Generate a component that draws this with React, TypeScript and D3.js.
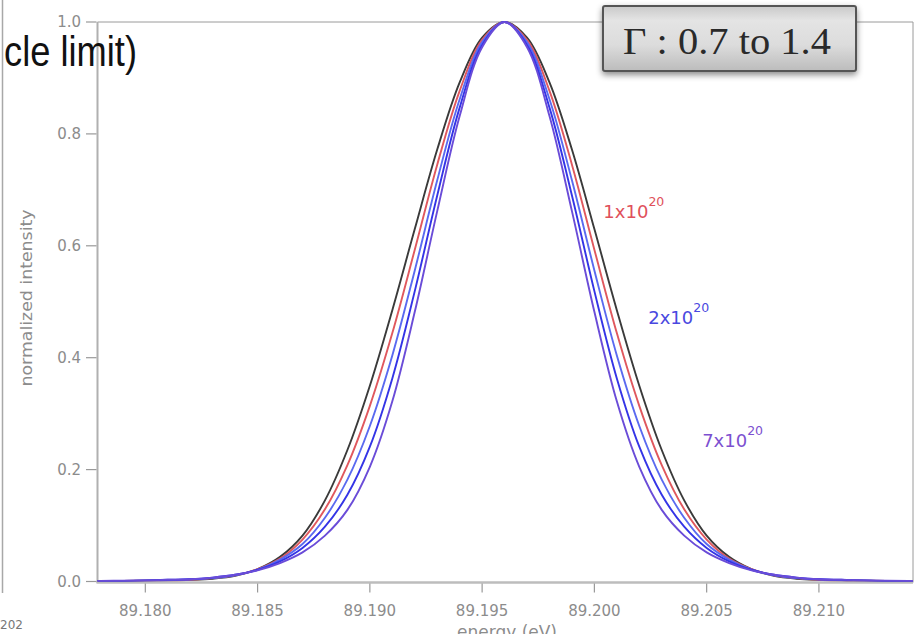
import React from "react";
import * as d3 from "d3";

const energies = [
  89.177, 89.178, 89.179, 89.18, 89.181, 89.182, 89.183, 89.184, 89.185, 89.186,
  89.187, 89.188, 89.189, 89.19, 89.191, 89.192, 89.193, 89.194, 89.195, 89.196,
  89.197, 89.198, 89.199, 89.2, 89.201, 89.202, 89.203, 89.204, 89.205, 89.206,
  89.207, 89.208, 89.209, 89.21, 89.211, 89.212, 89.213, 89.214, 89.215,
];

const blackSeries = [.001,.001,.001,.0015,.002,.003,.005,.010,.022,.044,.082,.145,.235,.350,.485,.630,.772,.892,.972,1,.972,.892,.772,.630,.485,.350,.235,.145,.082,.044,.022,.010,.005,.003,.002,.0015,.001,.001,.001];
const redSeries = [.001,.001,.001,.0015,.002,.003,.006,.011,.022,.041,.075,.129,.208,.314,.444,.593,.745,.877,.968,1,.968,.877,.745,.593,.444,.314,.208,.129,.075,.041,.022,.011,.006,.003,.002,.0015,.001,.001,.001];
const blueSeries = [.001,.001,.001,.0015,.002,.004,.006,.011,.021,.039,.067,.114,.182,.278,.404,.556,.717,.862,.964,1,.964,.862,.717,.556,.404,.278,.182,.114,.067,.039,.021,.011,.006,.004,.002,.0015,.001,.001,.001];
const darkBlueSeries = [.001,.001,.001,.002,.003,.004,.007,.012,.021,.036,.060,.098,.155,.241,.363,.519,.690,.847,.959,1,.959,.847,.690,.519,.363,.241,.155,.098,.060,.036,.021,.012,.007,.004,.003,.002,.001,.001,.001];
const purpleSeries = [.001,.001,.0015,.002,.003,.004,.007,.012,.020,.033,.052,.082,.128,.205,.322,.482,.662,.832,.955,1,.955,.832,.662,.482,.322,.205,.128,.082,.052,.033,.020,.012,.007,.004,.003,.002,.0015,.001,.001];

const seriesList = [
  { name: "black", values: blackSeries, color: "#3a3a3a" },
  { name: "red", values: redSeries, color: "#e0585e" },
  { name: "blue", values: blueSeries, color: "#5a6af0" },
  { name: "darkblue", values: darkBlueSeries, color: "#3434e6" },
  { name: "purple", values: purpleSeries, color: "#6a4cd8" },
];

const xTicks = [89.18, 89.185, 89.19, 89.195, 89.2, 89.205, 89.21];
const yTicks = [0, 0.2, 0.4, 0.6, 0.8, 1.0];

const densityLabels = [
  { base: "1x10", exp: "20", e: 89.2004, v: 0.65, color: "#e0505a" },
  { base: "2x10", exp: "20", e: 89.2024, v: 0.46, color: "#4a48e0" },
  { base: "7x10", exp: "20", e: 89.2048, v: 0.24, color: "#7c50d0" },
];

const titleText = "cle limit)";
const gammaText = "Γ : 0.7 to 1.4";

export default function App() {
  const left = 97.5, right = 913, top = 22, bottom = 581.5;
  const x = d3.scaleLinear().domain([89.17787, 89.21419]).range([left, right]);
  const y = d3.scaleLinear().domain([0, 1]).range([bottom, top]);
  const line = d3
    .line<number>()
    .x((_, i) => x(energies[i]))
    .y((v) => y(v))
    .curve(d3.curveCatmullRom.alpha(0.5));

  return (
    <svg
      width={915}
      height={634}
      style={{ position: "absolute", left: 0, top: 0, background: "#fff" }}
      fontFamily="DejaVu Sans, Verdana, sans-serif"
    >
      <defs>
        <clipPath id="plotClip">
          <rect x={left} y={top - 4} width={right - left} height={bottom - top + 4} />
        </clipPath>
        <linearGradient id="boxGrad" x1="0" y1="0" x2="0" y2="1">
          <stop offset="0%" stopColor="#c9c9c9" />
          <stop offset="22%" stopColor="#e4e4e4" />
          <stop offset="60%" stopColor="#dcdcdc" />
          <stop offset="100%" stopColor="#bcbcbc" />
        </linearGradient>
        <filter id="shadow" x="-10%" y="-20%" width="120%" height="160%">
          <feDropShadow dx="0" dy="3" stdDeviation="3" floodColor="#000" floodOpacity="0.45" />
        </filter>
      </defs>

      {/* slide edge */}
      <line x1={2.5} x2={2.5} y1={0} y2={593} stroke="#a8a8a8" strokeWidth={1.5} />
      <text x={0} y={629} fontSize={12} fill="#777">202</text>

      {/* frame */}
      <line x1={left} x2={right} y1={top} y2={top} stroke="#9a9a9a" strokeWidth={1} />
      <line x1={right} x2={right} y1={top} y2={bottom + 1} stroke="#9a9a9a" strokeWidth={1} />
      <line x1={left} x2={left} y1={top} y2={bottom + 1.5} stroke="#b0b0b0" strokeWidth={2} />
      <line x1={left - 1} x2={right} y1={bottom + 1} y2={bottom + 1} stroke="#bdbdbd" strokeWidth={2.5} />

      {/* y ticks */}
      {yTicks.map((t) => (
        <g key={"y" + t}>
          <line x1={86} x2={left - 1} y1={y(t)} y2={y(t)} stroke="#999" strokeWidth={1.2} />
          <text x={81} y={y(t) + 5} fontSize={15} fill="#8c8c8c" textAnchor="end">
            {t.toFixed(1)}
          </text>
        </g>
      ))}

      {/* x ticks */}
      {xTicks.map((t) => (
        <g key={"x" + t}>
          <line x1={x(t)} x2={x(t)} y1={bottom + 2} y2={bottom + 11} stroke="#999" strokeWidth={1.2} />
          <text x={x(t)} y={616} fontSize={15} fill="#8c8c8c" textAnchor="middle">
            {t.toFixed(3)}
          </text>
        </g>
      ))}

      <text
        transform="translate(32,298) rotate(-90)"
        fontSize={16}
        fill="#8c8c8c"
        textAnchor="middle"
        textLength={177}
        lengthAdjust="spacingAndGlyphs"
      >
        normalized intensity
      </text>
      <text x={507} y={638} fontSize={17} fill="#8c8c8c" textAnchor="middle">
        energy (eV)
      </text>

      {/* curves */}
      <g clipPath="url(#plotClip)">
        {seriesList.map((s) => (
          <path key={s.name} d={line(s.values) || ""} fill="none" stroke={s.color} strokeWidth={1.9} />
        ))}
      </g>

      {/* density labels */}
      {densityLabels.map((l) => (
        <text key={l.base + l.e} x={x(l.e)} y={y(l.v)} fill={l.color} fontSize={18}>
          {l.base}
          <tspan dy={-12} fontSize={12.5}>{l.exp}</tspan>
        </text>
      ))}

      {/* title fragment */}
      <text
        x={4}
        y={66}
        fontFamily="Liberation Sans, Arial, sans-serif"
        fontSize={42}
        fill="#111"
        textLength={133}
        lengthAdjust="spacingAndGlyphs"
      >
        {titleText}
      </text>

      {/* gamma box */}
      <g filter="url(#shadow)">
        <rect x={603} y={6} width={253} height={65} rx={2} fill="url(#boxGrad)" stroke="#555" strokeWidth={2} />
      </g>
      <text
        x={727}
        y={54}
        fontFamily="Liberation Serif, Times New Roman, serif"
        fontSize={37}
        fill="#2a2a2a"
        textAnchor="middle"
        textLength={208}
        lengthAdjust="spacingAndGlyphs"
      >
        {gammaText}
      </text>
    </svg>
  );
}
